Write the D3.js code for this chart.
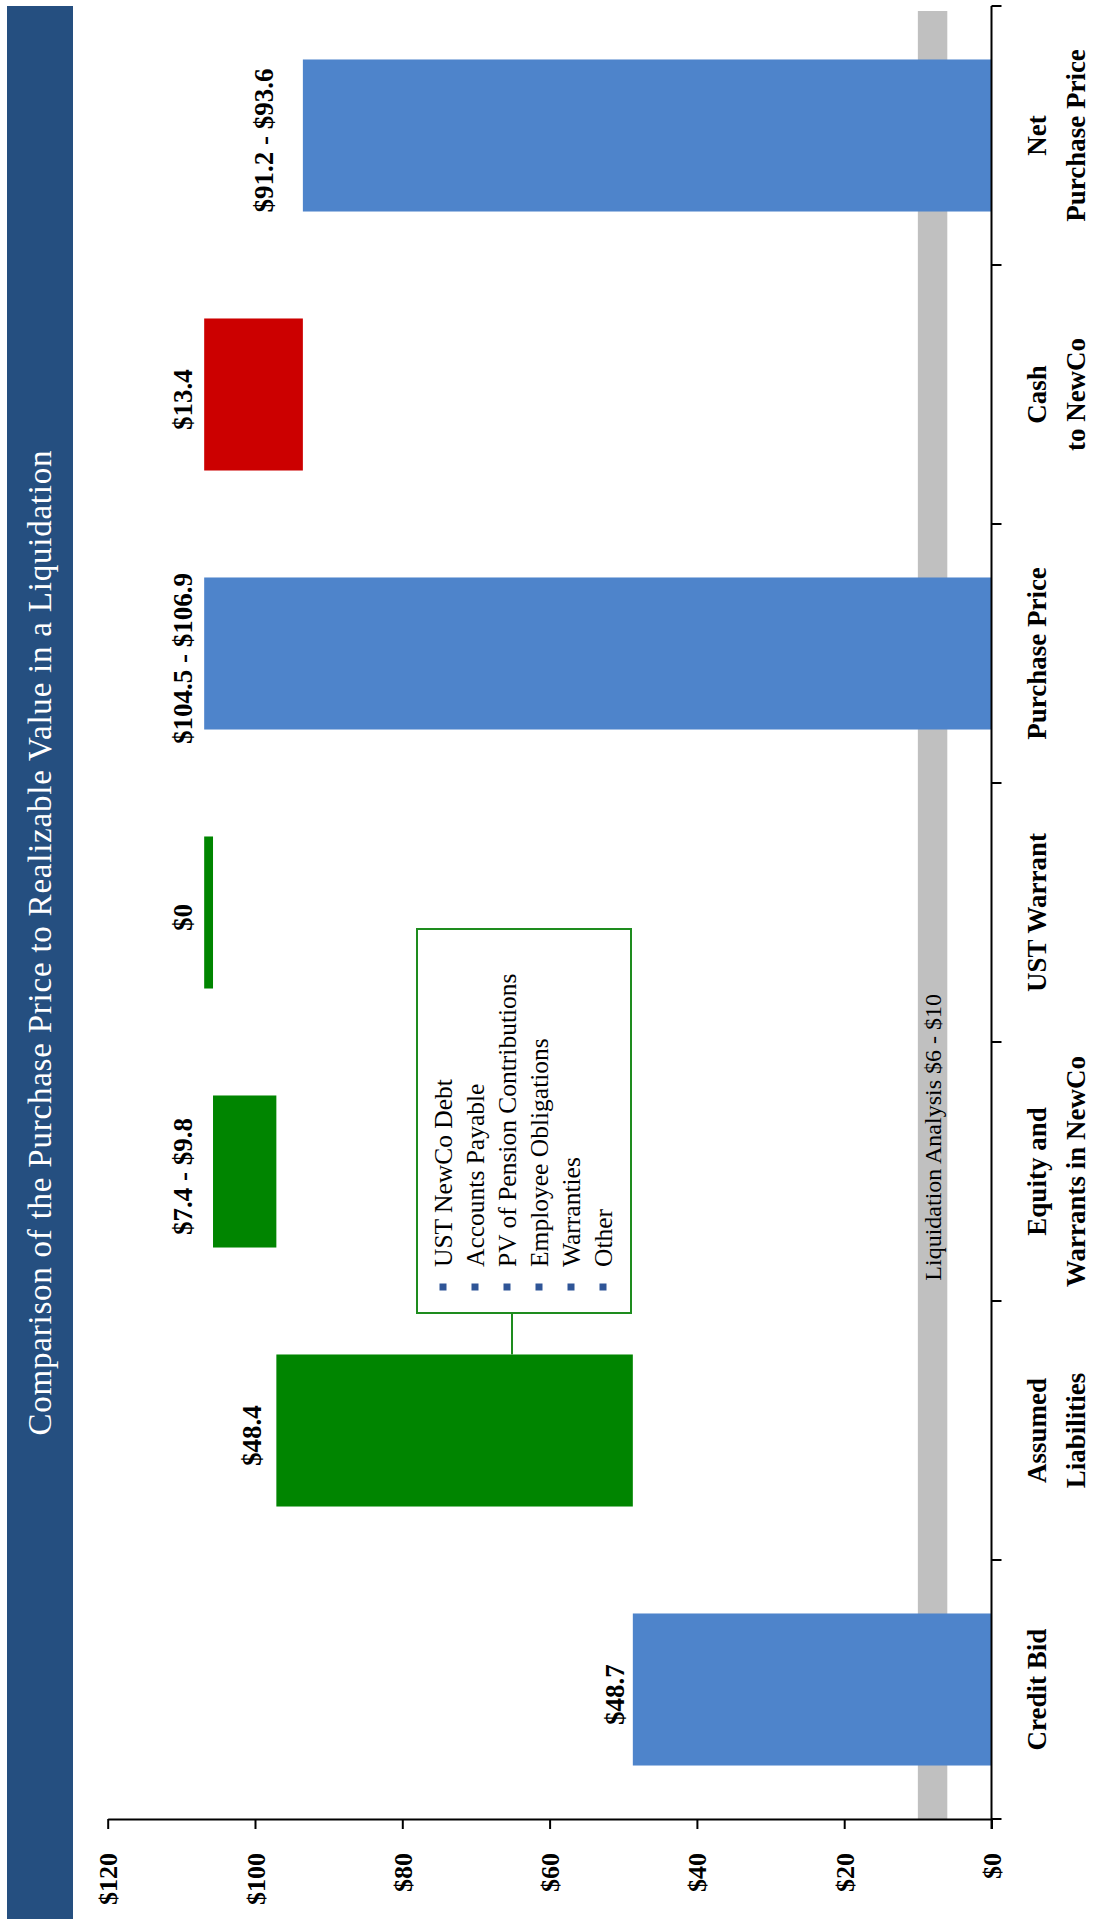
<!DOCTYPE html>
<html>
<head>
<meta charset="utf-8">
<script src="https://cdn.jsdelivr.net/npm/d3@7"></script>
<style>
  body { margin: 0; background: #fff; }
  svg { display: block; }
  text { font-family: "Liberation Serif", "Times New Roman", serif; }
</style>
</head>
<body>
<script>
// ---------------- DATA ----------------
const chartTitle = "Comparison of the Purchase Price to Realizable Value in a Liquidation";
const categories = ["Credit Bid", "Assumed Liabilities", "Equity and Warrants in NewCo", "UST Warrant", "Purchase Price", "Cash to NewCo", "Net Purchase Price"];
const categoryLines = [["Credit Bid"], ["Assumed", "Liabilities"], ["Equity and", "Warrants in NewCo"], ["UST Warrant"], ["Purchase Price"], ["Cash", "to NewCo"], ["Net", "Purchase Price"]];
const barStart = [0, 48.7, 97.1, 105.7, 0, 93.5, 0];
const barEnd   = [48.7, 97.1, 105.7, 106.9, 106.9, 106.9, 93.5];
const barKind  = ["total", "increase", "increase", "increase", "total", "decrease", "total"];
const valueLabels = ["$48.7", "$48.4", "$7.4 - $9.8", "$0", "$104.5 - $106.9", "$13.4", "$91.2 - $93.6"];
const valueTicks = [0, 20, 40, 60, 80, 100, 120];
const liquidationRange = [6, 10];
const liquidationLabel = "Liquidation Analysis $6 - $10";
const legendItems = ["UST NewCo Debt", "Accounts Payable", "PV of Pension Contributions", "Employee Obligations", "Warranties", "Other"];

// ---------------- STYLE / LAYOUT ----------------
const W = 1094, H = 1925;
const colors = { total: "#4E84CB", increase: "#008500", decrease: "#CC0000" };
const labelGapExtra = { "Credit Bid": -3, "Assumed Liabilities": 3, "Equity and Warrants in NewCo": 9, "Net Purchase Price": 18 };

const svg = d3.select("body").append("svg").attr("width", W).attr("height", H);
svg.append("rect").attr("width", W).attr("height", H).attr("fill", "#fff");

// title band
svg.append("rect").attr("x", 7).attr("y", 6).attr("width", 66).attr("height", 1913).attr("fill", "#254F80");
svg.append("text")
  .attr("transform", "translate(51,943) rotate(-90)")
  .attr("text-anchor", "middle")
  .attr("fill", "#fff")
  .attr("font-size", 33)
  .attr("textLength", 985)
  .attr("lengthAdjust", "spacing")
  .text(chartTitle);

// scales
const x = d3.scaleLinear().domain([0, 120]).range([991.5, 107.7]);
const y = d3.scaleBand().domain(categories.slice().reverse()).range([6, 1819])
  .paddingInner(0.413).paddingOuter(0.2065);
const step = y.step();
const plotTop = 6, plotBottom = 1819;

// liquidation band
svg.append("rect")
  .attr("x", x(liquidationRange[1]))
  .attr("width", x(liquidationRange[0]) - x(liquidationRange[1]))
  .attr("y", plotTop + 5)
  .attr("height", plotBottom - plotTop - 5)
  .attr("fill", "#C0C0C0");

// bars
const data = categories.map((c, i) => ({ c, s: barStart[i], e: barEnd[i], k: barKind[i], lab: valueLabels[i], lines: categoryLines[i] }));
svg.append("g").selectAll("rect").data(data).join("rect")
  .attr("x", d => x(Math.max(d.s, d.e)))
  .attr("width", d => Math.abs(x(d.s) - x(d.e)))
  .attr("y", d => y(d.c))
  .attr("height", y.bandwidth())
  .attr("fill", d => colors[d.k]);

// liquidation label
svg.append("text")
  .attr("transform", `translate(${(x(liquidationRange[0]) + x(liquidationRange[1])) / 2 + 8},${plotTop + 0.624 * (plotBottom - plotTop)}) rotate(-90)`)
  .attr("text-anchor", "middle")
  .attr("font-size", 24)
  .attr("fill", "#000")
  .text(liquidationLabel);

// value labels
svg.append("g").selectAll("text").data(data).join("text")
  .attr("transform", d => `translate(${x(Math.max(d.s, d.e)) - 12 - (labelGapExtra[d.c] || 0)},${y(d.c) + y.bandwidth() / 2 + 5}) rotate(-90)`)
  .attr("text-anchor", "middle")
  .attr("font-size", 27)
  .attr("font-weight", "bold")
  .text(d => d.lab);

// value axis
const xAxis = svg.append("g").attr("transform", `translate(0,${plotBottom})`)
  .call(d3.axisBottom(x).tickValues(valueTicks).tickSize(10).tickSizeOuter(0).tickFormat(d => "$" + d));
xAxis.select(".domain").attr("stroke", "#000").attr("stroke-width", 2);
xAxis.selectAll(".tick line").attr("stroke", "#000").attr("stroke-width", 2);
xAxis.selectAll(".tick text")
  .attr("transform", "rotate(-90)")
  .attr("x", -34).attr("y", 9).attr("dy", 0)
  .attr("text-anchor", "end")
  .attr("font-size", 26)
  .attr("font-weight", "bold")
  .attr("font-family", "Liberation Serif, serif")
  .attr("fill", "#000");

// category axis
const cAxis = svg.append("g");
cAxis.append("line").attr("x1", x(0)).attr("x2", x(0)).attr("y1", plotTop).attr("y2", plotBottom + 10)
  .attr("stroke", "#000").attr("stroke-width", 2);
cAxis.selectAll("line.ct").data(d3.range(categories.length + 1)).join("line").attr("class", "ct")
  .attr("x1", x(0)).attr("x2", x(0) + 10)
  .attr("y1", i => plotTop + i * step).attr("y2", i => plotTop + i * step)
  .attr("stroke", "#000").attr("stroke-width", 2);

// category labels
const cl = svg.append("g").selectAll("g").data(data).join("g");
cl.selectAll("text").data(d => d.lines.map((t, j) => ({ t, j, cy: y(d.c) + y.bandwidth() / 2 }))).join("text")
  .attr("transform", d => `translate(${1046 + d.j * 39},${d.cy}) rotate(-90)`)
  .attr("text-anchor", "middle")
  .attr("font-size", 27)
  .attr("font-weight", "bold")
  .text(d => d.t);

// legend callout
const lg = svg.append("g");
const box = { x: 417, y: 929, w: 214, h: 384 };
lg.append("line").attr("x1", 512).attr("x2", 512).attr("y1", box.y + box.h).attr("y2", y("Assumed Liabilities"))
  .attr("stroke", "#1E8C1E").attr("stroke-width", 2);
lg.append("rect").attr("x", box.x).attr("y", box.y).attr("width", box.w).attr("height", box.h)
  .attr("fill", "#fff").attr("stroke", "#1E8C1E").attr("stroke-width", 2);
lg.selectAll("rect.b").data(legendItems).join("rect").attr("class", "b")
  .attr("x", (d, i) => 443 + 32 * i - 3.5).attr("y", 1287 - 3.5).attr("width", 7).attr("height", 7)
  .attr("fill", "#2F5597");
lg.selectAll("text").data(legendItems).join("text")
  .attr("transform", (d, i) => `translate(${452 + 32 * i},1267) rotate(-90)`)
  .attr("text-anchor", "start")
  .attr("font-size", 25.5)
  .text(d => d);
</script>
</body>
</html>
